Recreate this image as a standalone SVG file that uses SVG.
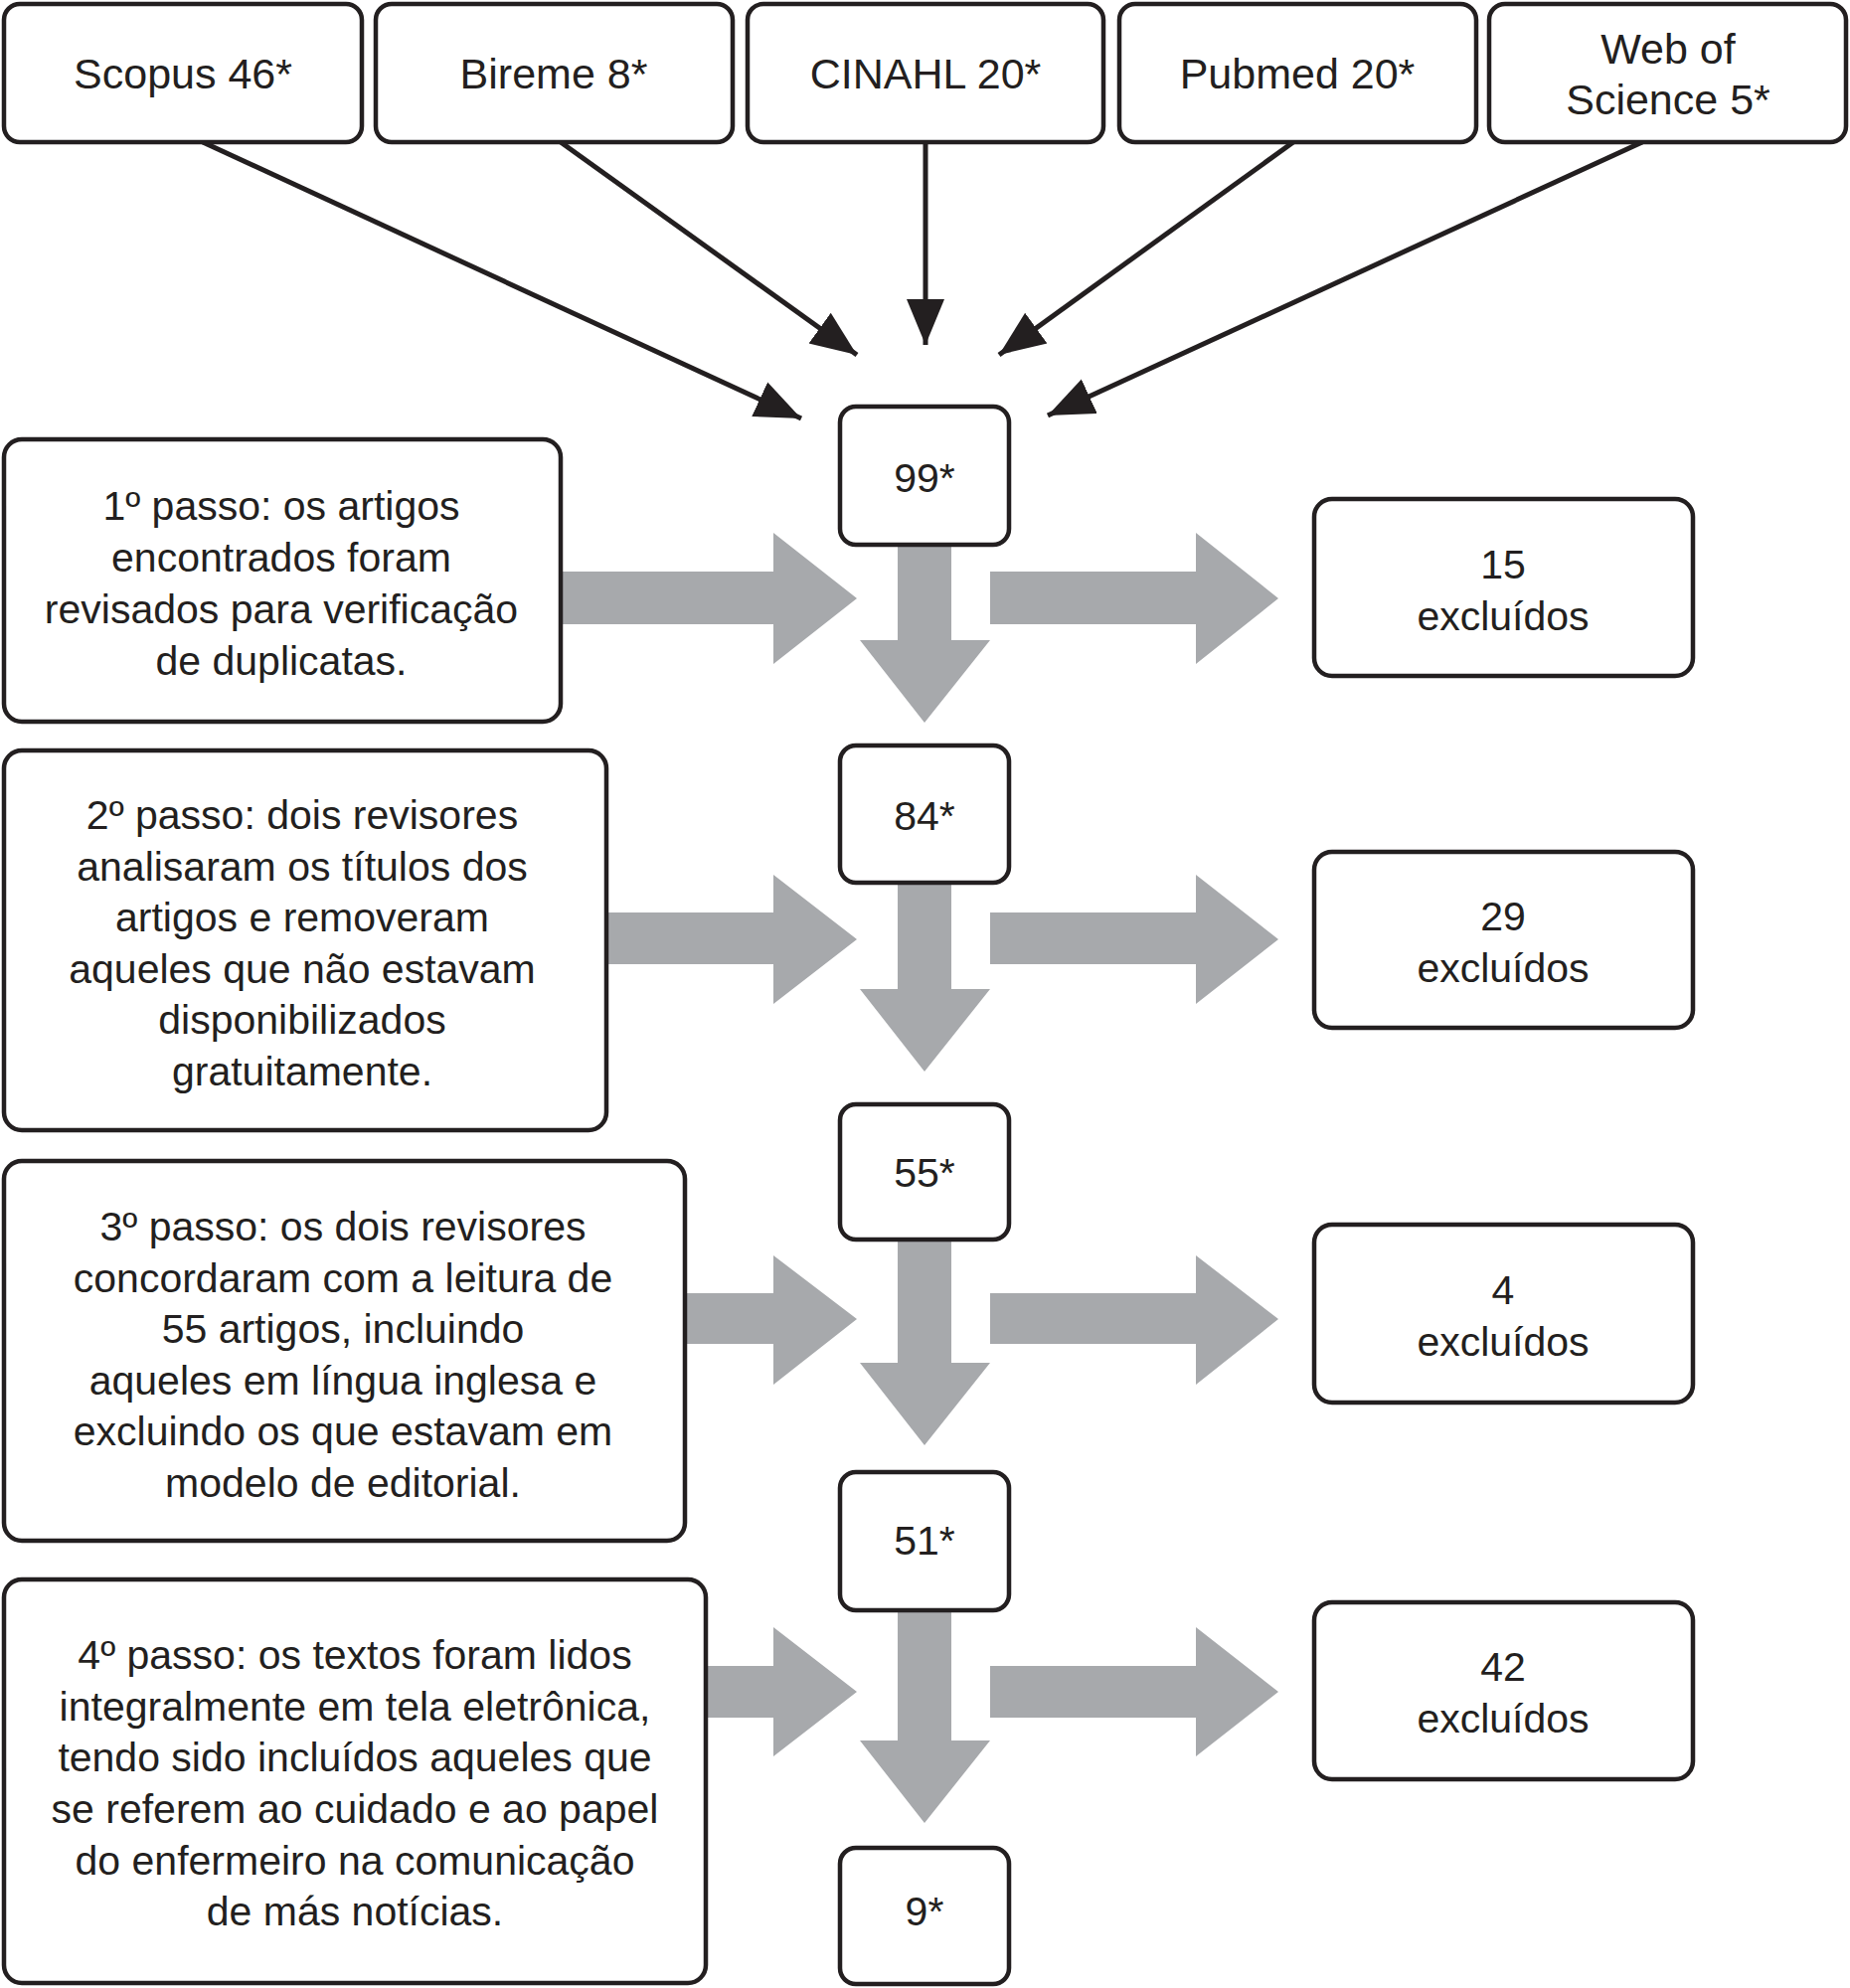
<svg xmlns="http://www.w3.org/2000/svg" width="1861" height="2000" viewBox="0 0 1861 2000">
<style>
.box{fill:#ffffff;stroke:#231f20;stroke-width:4.5}
.t{font-family:"Liberation Sans","DejaVu Sans",sans-serif;font-size:41px;fill:#231f20;text-anchor:middle}
.tt{font-size:43px}
.ln{stroke:#231f20;stroke-width:5;fill:none}
.g{fill:#a7a9ac}
</style>
<defs>
<marker id="ah" markerUnits="userSpaceOnUse" markerWidth="48" markerHeight="40" viewBox="0 0 48 40" refX="46" refY="20" orient="auto">
<path d="M0,1 L46,20 L0,39 z" fill="#231f20"/>
</marker>
</defs>
<rect width="1861" height="2000" fill="#ffffff"/>

<g id="connectors">
<line class="ln" x1="204" y1="143" x2="806" y2="421" marker-end="url(#ah)"/>
<line class="ln" x1="564" y1="143" x2="862" y2="357" marker-end="url(#ah)"/>
<line class="ln" x1="931" y1="143" x2="931" y2="347" marker-end="url(#ah)"/>
<line class="ln" x1="1301" y1="143" x2="1005" y2="357" marker-end="url(#ah)"/>
<line class="ln" x1="1652" y1="143" x2="1054" y2="418" marker-end="url(#ah)"/>
<!-- row 1 -->
<polygon class="g" points="565,575 778,575 778,536 862,602 778,668 778,628 565,628"/>
<polygon class="g" points="996,575 1203,575 1203,536 1286,602 1203,668 1203,628 996,628"/>
<polygon class="g" points="903,550 957,550 957,644 996,644 930,727 865,644 903,644"/>
<!-- row 2 -->
<polygon class="g" points="610,918 778,918 778,880 862,945 778,1010 778,970 610,970"/>
<polygon class="g" points="996,918 1203,918 1203,880 1286,945 1203,1010 1203,970 996,970"/>
<polygon class="g" points="903,889 957,889 957,995 996,995 930,1078 865,995 903,995"/>
<!-- row 3 -->
<polygon class="g" points="689,1301 778,1301 778,1263 862,1327 778,1393 778,1352 689,1352"/>
<polygon class="g" points="996,1301 1203,1301 1203,1263 1286,1327 1203,1393 1203,1352 996,1352"/>
<polygon class="g" points="903,1248 957,1248 957,1371 996,1371 930,1454 865,1371 903,1371"/>
<!-- row 4 -->
<polygon class="g" points="710,1676 778,1676 778,1637 862,1702 778,1767 778,1728 710,1728"/>
<polygon class="g" points="996,1676 1203,1676 1203,1637 1286,1702 1203,1767 1203,1728 996,1728"/>
<polygon class="g" points="903,1620 957,1620 957,1751 996,1751 930,1834 865,1751 903,1751"/>
</g>

<g id="scopus"><rect class="box" x="4" y="4" width="360" height="139" rx="16"/><text class="t tt" x="184" y="89">Scopus 46*</text></g>
<g id="bireme"><rect class="box" x="378" y="4" width="359" height="139" rx="16"/><text class="t tt" x="557" y="89">Bireme 8*</text></g>
<g id="cinahl"><rect class="box" x="752" y="4" width="358" height="139" rx="16"/><text class="t tt" x="931" y="89">CINAHL 20*</text></g>
<g id="pubmed"><rect class="box" x="1126" y="4" width="359" height="139" rx="16"/><text class="t tt" x="1305" y="89">Pubmed 20*</text></g>
<g id="wos"><rect class="box" x="1498" y="4" width="359" height="139" rx="16"/><text class="t tt" x="1678" y="64">Web of</text><text class="t tt" x="1678" y="115">Science 5*</text></g>

<g id="n99"><rect class="box" x="845" y="409" width="170" height="139" rx="16"/><text class="t" x="930" y="495">99*</text></g>
<g id="n84"><rect class="box" x="845" y="750" width="170" height="138" rx="16"/><text class="t" x="930" y="835">84*</text></g>
<g id="n55"><rect class="box" x="845" y="1111" width="170" height="136" rx="16"/><text class="t" x="930" y="1194">55*</text></g>
<g id="n51"><rect class="box" x="845" y="1481" width="170" height="139" rx="16"/><text class="t" x="930" y="1564">51*</text></g>
<g id="n9"><rect class="box" x="845" y="1859" width="170" height="137" rx="16"/><text class="t" x="930" y="1937">9*</text></g>

<g id="step1"><rect class="box" x="4" y="442" width="560" height="284" rx="18"/>
<text class="t" x="283" y="523">1º passo: os artigos</text>
<text class="t" x="283" y="575">encontrados foram</text>
<text class="t" x="283" y="627">revisados para verificação</text>
<text class="t" x="283" y="679">de duplicatas.</text></g>

<g id="step2"><rect class="box" x="4" y="755" width="606" height="382" rx="18"/>
<text class="t" x="304" y="834">2º passo: dois revisores</text>
<text class="t" x="304" y="886">analisaram os títulos dos</text>
<text class="t" x="304" y="937">artigos e removeram</text>
<text class="t" x="304" y="989">aqueles que não estavam</text>
<text class="t" x="304" y="1040">disponibilizados</text>
<text class="t" x="304" y="1092">gratuitamente.</text></g>

<g id="step3"><rect class="box" x="4" y="1168" width="685" height="382" rx="18"/>
<text class="t" x="345" y="1248">3º passo: os dois revisores</text>
<text class="t" x="345" y="1300">concordaram com a leitura de</text>
<text class="t" x="345" y="1351">55 artigos, incluindo</text>
<text class="t" x="345" y="1403">aqueles em língua inglesa e</text>
<text class="t" x="345" y="1454">excluindo os que estavam em</text>
<text class="t" x="345" y="1506">modelo de editorial.</text></g>

<g id="step4"><rect class="box" x="4" y="1589" width="706" height="406" rx="18"/>
<text class="t" x="357" y="1679">4º passo: os textos foram lidos</text>
<text class="t" x="357" y="1731">integralmente em tela eletrônica,</text>
<text class="t" x="357" y="1782">tendo sido incluídos aqueles que</text>
<text class="t" x="357" y="1834">se referem ao cuidado e ao papel</text>
<text class="t" x="357" y="1886">do enfermeiro na comunicação</text>
<text class="t" x="357" y="1937">de más notícias.</text></g>

<g id="ex15"><rect class="box" x="1322" y="502" width="381" height="178" rx="18"/><text class="t" x="1512" y="582">15</text><text class="t" x="1512" y="634">excluídos</text></g>
<g id="ex29"><rect class="box" x="1322" y="857" width="381" height="177" rx="18"/><text class="t" x="1512" y="936">29</text><text class="t" x="1512" y="988">excluídos</text></g>
<g id="ex4"><rect class="box" x="1322" y="1232" width="381" height="179" rx="18"/><text class="t" x="1512" y="1312">4</text><text class="t" x="1512" y="1364">excluídos</text></g>
<g id="ex42"><rect class="box" x="1322" y="1612" width="381" height="178" rx="18"/><text class="t" x="1512" y="1691">42</text><text class="t" x="1512" y="1743">excluídos</text></g>
</svg>
